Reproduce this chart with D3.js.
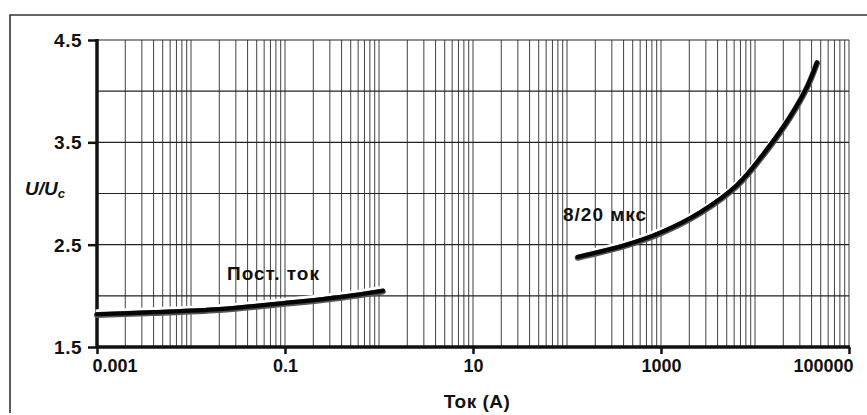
<!DOCTYPE html>
<html><head><meta charset="utf-8">
<script src="https://cdn.jsdelivr.net/npm/d3@7"></script>
<style>
html,body{margin:0;padding:0;background:#fff;}
svg{display:block;font-family:"Liberation Sans",Arial,sans-serif;}
</style></head>
<body><svg id="c" width="867" height="415"></svg>
<script>
// ---- data ----
const xTickValues = [0.001, 0.1, 10, 1000, 100000];
const xTickLabels = ["0.001", "0.1", "10", "1000", "100000"];
const yTickValues = [1.5, 2.5, 3.5, 4.5];
const yTickLabels = ["1.5", "2.5", "3.5", "4.5"];
const yGridValues = [1.5, 2, 2.5, 3, 3.5, 4, 4.5];

const dcCurrent = [0.001, 0.004, 0.02, 0.1, 0.4, 1.1];
const dcRatio   = [1.82, 1.84, 1.87, 1.93, 1.99, 2.05];

const surgeCurrent = [130, 430, 1000, 2600, 6500, 13400, 23600, 35700, 45700];
const surgeRatio   = [2.38, 2.50, 2.62, 2.815, 3.085, 3.43, 3.75, 4.04, 4.28];

const seriesLabels = ["Пост. ток", "8/20 мкс"];
const xTitle = "Ток (А)";

// ---- layout ----
const svg = d3.select("#c");
const L = 97, R = 849, T = 40, B = 347;
const x = d3.scaleLog().domain([0.001, 100000]).range([L, R]);
const y = d3.scaleLinear().domain([1.5, 4.5]).range([B, T]);

// outer frame (left + top)
svg.append("path").attr("d", `M10,413 V15 H867`).attr("fill", "none")
  .attr("stroke", "#333").attr("stroke-width", 1.6);

// grid
const vgrid = x.ticks();
svg.append("g").selectAll("line").data(vgrid).join("line")
  .attr("x1", d => x(d)).attr("x2", d => x(d))
  .attr("y1", T).attr("y2", B)
  .attr("stroke", "#404040").attr("stroke-width", 1);
svg.append("g").selectAll("line").data(yGridValues).join("line")
  .attr("x1", L).attr("x2", R)
  .attr("y1", d => y(d)).attr("y2", d => y(d))
  .attr("stroke", "#222").attr("stroke-width", 1.2);

// axes
const yAxis = d3.axisLeft(y).tickValues(yTickValues)
  .tickFormat((d, i) => yTickLabels[i]).tickSize(9).tickPadding(6);
const gy = svg.append("g").attr("transform", `translate(${L},0)`).call(yAxis);
gy.select(".domain").attr("stroke", "#111").attr("stroke-width", 3.5)
  .attr("d", `M0,${T-1}V${B}`);
gy.selectAll(".tick line").attr("stroke", "#111").attr("stroke-width", 2.5);
gy.selectAll(".tick text").attr("font-size", 19).attr("font-weight", "bold")
  .attr("letter-spacing", 0.5).attr("fill", "#111").attr("dy", "0.35em");

const xAxis = d3.axisBottom(x).tickValues(xTickValues)
  .tickFormat((d, i) => xTickLabels[i]).tickSize(7).tickPadding(5);
const gx = svg.append("g").attr("transform", `translate(0,${B})`).call(xAxis);
gx.select(".domain").attr("stroke", "#111").attr("stroke-width", 3.5)
  .attr("d", `M${L-1},0H${R+1}`);
gx.selectAll(".tick line").attr("stroke", "#111").attr("stroke-width", 2.5);
gx.selectAll(".tick text").attr("font-size", 18).attr("font-weight", "bold")
  .attr("fill", "#111")
  .attr("text-anchor", (d, i) => i === 0 ? "start" : (i === xTickValues.length - 1 ? "end" : "middle"))
  .attr("dx", (d, i) => i === 0 ? -5 : (i === xTickValues.length - 1 ? 4 : 0));

// axis titles
const yt = svg.append("text").attr("x", 25).attr("y", 195)
  .attr("font-size", 19).attr("font-weight", "bold").attr("font-style", "italic").attr("fill", "#111");
yt.append("tspan").text("U/U");
yt.append("tspan").text("c").attr("font-size", 13).attr("dy", 3);

svg.append("text").attr("x", 477).attr("y", 408).attr("text-anchor", "middle")
  .attr("font-size", 19).attr("font-weight", "bold").attr("letter-spacing", 0.5)
  .attr("fill", "#111").text(xTitle);

// curves
const line = d3.line().x(d => x(d[0])).y(d => y(d[1])).curve(d3.curveCatmullRom.alpha(0.5));
function drawCurve(xs, ys) {
  const pts = xs.map((v, i) => [v, ys[i]]);
  const g = svg.append("g");
  g.append("path").attr("d", line(pts)).attr("fill", "none")
    .attr("stroke", "#fff").attr("stroke-width", 3).attr("stroke-linecap", "round")
    .attr("transform", "translate(0,-3.5)");
  g.append("path").attr("d", line(pts)).attr("fill", "none")
    .attr("stroke", "#555").attr("stroke-width", 6).attr("stroke-linecap", "round")
    .attr("transform", "translate(0,0.8)");
  g.append("path").attr("d", line(pts)).attr("fill", "none")
    .attr("stroke", "#050505").attr("stroke-width", 4.2).attr("stroke-linecap", "round");
}
drawCurve(dcCurrent, dcRatio);
drawCurve(surgeCurrent, surgeRatio);

// series labels
svg.append("text").attr("x", 227).attr("y", 280).attr("font-size", 19)
  .attr("font-weight", "bold").attr("letter-spacing", 1).attr("fill", "#111").text(seriesLabels[0]);
svg.append("text").attr("x", 563).attr("y", 221).attr("font-size", 19)
  .attr("font-weight", "bold").attr("letter-spacing", 1).attr("fill", "#111").text(seriesLabels[1]);
</script></body></html>
